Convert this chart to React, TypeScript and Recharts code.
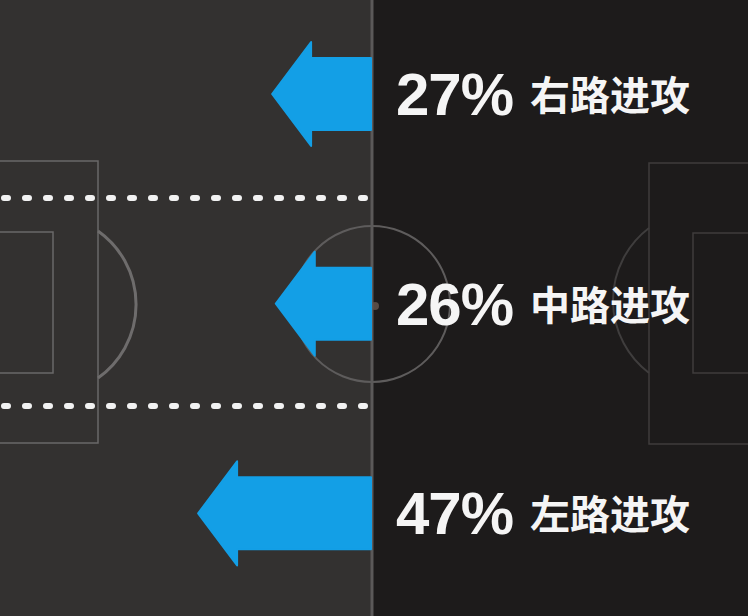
import React from 'react';
import { BarChart, Bar, XAxis, YAxis } from 'recharts';

const categories = ['右路进攻', '中路进攻', '左路进攻'];
const shares = [27, 26, 47];

const data = categories.map((name, i) => ({ name, share: shares[i] }));

const ARROW_COLOR = '#139fe6';
const LEFT_BG = '#333130';
const RIGHT_BG = '#1d1b1b';

// arrow pointing left: tip at the far end of the bar, body flush with the halfway line
const ArrowShape = (props: any) => {
  const { x, y, width, height, payload } = props;
  const left = Math.min(x, x + width);
  const right = Math.max(x, x + width);
  const cy = y + height / 2;
  const head = 40;
  const bodyHalf = 36;
  const headHalf = 52;
  const d = [
    `M${right},${cy - bodyHalf}`,
    `L${left + head},${cy - bodyHalf}`,
    `L${left + head},${cy - headHalf}`,
    `L${left + 1},${cy}`,
    `L${left + head},${cy + headHalf}`,
    `L${left + head},${cy + bodyHalf}`,
    `L${right},${cy + bodyHalf}`,
    'Z',
  ].join(' ');
  return (
    <g>
      <path d={d} fill={ARROW_COLOR} stroke={ARROW_COLOR} strokeWidth={2} strokeLinejoin="round" />
      <text
        x={right + 25}
        y={cy + 21}
        fill="#f5f5f5"
        fontFamily="'Liberation Sans', Arial, sans-serif"
        fontWeight={700}
        fontSize={60}
        letterSpacing={-1}
      >
        {`${payload.share}%`}
      </text>
      <text
        x={right + 159}
        y={cy + 16}
        fill="#f5f5f5"
        fontFamily="'Noto Sans CJK SC', sans-serif"
        fontWeight={700}
        fontSize={40}
      >
        {payload.name}
      </text>
    </g>
  );
};

const Pitch = () => (
  <svg width={748} height={616} style={{ position: 'absolute', left: 0, top: 0 }}>
    <rect x={0} y={0} width={372} height={616} fill={LEFT_BG} />
    <rect x={372} y={0} width={376} height={616} fill={RIGHT_BG} />

    {/* left half markings */}
    <g fill="none" stroke="#6a6868" strokeWidth={1.5}>
      <rect x={-5} y={161} width={103} height={282} />
      <rect x={-5} y={232} width={58} height={141} />
    </g>
    <path d="M98,231 A90,90 0 0 1 98,378" fill="none" stroke="#6e6c6c" strokeWidth={3} />

    {/* right half markings */}
    <g fill="none" stroke="#3f3d3d" strokeWidth={1.5}>
      <rect x={649} y={163} width={110} height={281} />
      <rect x={693} y={233} width={70} height={140} />
    </g>
    <path d="M649,228 A91,91 0 0 0 649,373" fill="none" stroke="#3f3d3d" strokeWidth={2} />

    {/* centre circle and spot */}
    <circle cx={372} cy={304} r={78} fill="none" stroke="#5e5c5c" strokeWidth={2} />
    <circle cx={375} cy={306} r={4} fill="#574b44" />

    {/* channel separators */}
    <g stroke="#f2f2f2" strokeWidth={6} strokeLinecap="round" strokeDasharray="4 17">
      <line x1={4} y1={198} x2={372} y2={198} />
      <line x1={4} y1={406} x2={372} y2={406} />
    </g>

    {/* halfway line */}
    <line x1={372} y1={0} x2={372} y2={616} stroke="#5b5959" strokeWidth={3} />
  </svg>
);

export default function App() {
  return (
    <div style={{ position: 'absolute', left: 0, top: 0, width: 748, height: 616, overflow: 'hidden' }}>
      <Pitch />
      <div style={{ position: 'absolute', left: 0, top: 0 }}>
        <BarChart
          width={748}
          height={616}
          data={data}
          layout="vertical"
          margin={{ top: -11, right: 377, bottom: -2, left: 1 }}
          barCategoryGap={0}
        >
          <XAxis type="number" domain={[0, 100]} reversed hide />
          <YAxis type="category" dataKey="name" hide />
          <Bar dataKey="share" shape={ArrowShape} isAnimationActive={false} />
        </BarChart>
      </div>
    </div>
  );
}
